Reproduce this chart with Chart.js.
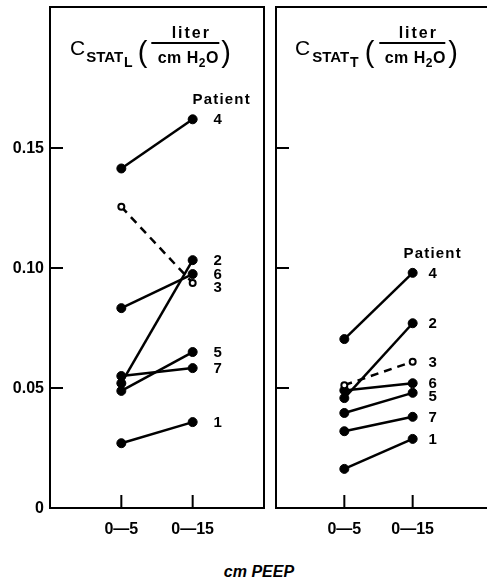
<!DOCTYPE html>
<html>
<head>
<meta charset="utf-8">
<script src="https://cdn.jsdelivr.net/npm/chart.js@4.4.1/dist/chart.umd.min.js"></script>
<style>
  html, body { margin: 0; padding: 0; background: #fff; }
  #page { position: relative; width: 487px; height: 583px; overflow: hidden; }
  .panel { position: absolute; top: 0; height: 545px; }
  #xTitle { position: absolute; left: 209px; top: 563px; width: 100px; text-align: center;
            font: italic bold 16px "Liberation Sans", Arial, sans-serif; color: #000; }
</style>
</head>
<body>
<div id="page">
  <div class="panel" style="left:0;width:270px"><canvas id="lungChart"></canvas></div>
  <div class="panel" style="left:270px;width:217px"><canvas id="totalChart"></canvas></div>
  <div id="xTitle">cm PEEP</div>
</div>
<script>
// Data
const patients = ['1', '2', '3', '4', '5', '6', '7'];
const peepLevels = ['0\u20145', '0\u201415'];
const lungAt5 = [0.027, 0.052, 0.1255, 0.1415, 0.0488, 0.0833, 0.055];
const lungAt15 = [0.0358, 0.1033, 0.0938, 0.162, 0.065, 0.0975, 0.0583];
const totalAt5 = [0.0163, 0.0458, 0.0512, 0.0704, 0.0396, 0.049, 0.032];
const totalAt15 = [0.0288, 0.077, 0.061, 0.098, 0.048, 0.052, 0.038];
const yTicks = [0, 0.05, 0.10, 0.15];
const yTickLabels = ['0', '0.05', '0.10', '0.15'];
const dashedPatient = '3';

const FONT = '"Liberation Sans", Arial, sans-serif';

function buildDatasets(at5, at15) {
    return patients.map(function (p, i) {
        const open = p === dashedPatient;
        return {
            label: p,
            data: [{ x: 1, y: at5[i] }, { x: 2, y: at15[i] }],
            borderColor: '#000',
            borderWidth: 2.5,
            borderDash: open ? [8, 6] : [],
            pointRadius: open ? 3 : 4.5,
            pointBackgroundColor: open ? '#fff' : '#000',
            pointBorderColor: '#000',
            pointBorderWidth: open ? 2 : 1,
            tension: 0
        };
    });
}

// Frame, inward ticks, y labels, title and patient labels
const panelPlugin = {
    id: 'panelDecor',
    afterDraw: function (chart, args, opts) {
        const ctx = chart.ctx;
        const a = chart.chartArea;
        const xs = chart.scales.x, ys = chart.scales.y;
        ctx.save();
        ctx.strokeStyle = '#000';
        ctx.lineWidth = 2;
        ctx.beginPath();
        if (opts.rightBorder) {
            ctx.rect(a.left, a.top, a.right - a.left, a.bottom - a.top);
        } else {
            ctx.moveTo(chart.width, a.top);
            ctx.lineTo(a.left, a.top);
            ctx.lineTo(a.left, a.bottom);
            ctx.lineTo(chart.width, a.bottom);
        }
        // y ticks pointing into the plot
        yTicks.forEach(function (v) {
            if (v === 0) return;
            const py = ys.getPixelForValue(v);
            ctx.moveTo(a.left, py);
            ctx.lineTo(a.left + 13, py);
        });
        // x ticks pointing up
        [1, 2].forEach(function (v) {
            const px = xs.getPixelForValue(v);
            ctx.moveTo(px, a.bottom);
            ctx.lineTo(px, a.bottom - 13);
        });
        ctx.stroke();

        ctx.fillStyle = '#000';
        if (opts.yLabels) {
            ctx.font = 'bold 16px ' + FONT;
            ctx.textAlign = 'right';
            ctx.textBaseline = 'middle';
            yTicks.forEach(function (v, i) {
                ctx.fillText(yTickLabels[i], a.left - 6, ys.getPixelForValue(v) + 1);
            });
        }

        // title: C_STAT_x (liter / cmH2O)
        ctx.textBaseline = 'alphabetic';
        ctx.textAlign = 'left';
        let x = opts.titleX;
        ctx.font = '21px ' + FONT;
        ctx.fillText('C', x, 55);
        x += ctx.measureText('C').width + opts.gap;
        ctx.font = 'bold 15px ' + FONT;
        ctx.fillText('STAT', x, 62);
        x += ctx.measureText('STAT').width + 1;
        ctx.font = 'bold 14px ' + FONT;
        ctx.fillText(opts.sub, x, 67);
        x += ctx.measureText(opts.sub).width + opts.gap + 4;
        ctx.font = '29px ' + FONT;
        ctx.fillText('(', x, 62);
        x += ctx.measureText('(').width + opts.gap + 3;
        const lineW = opts.fracW;
        ctx.beginPath();
        ctx.lineWidth = 1.8;
        ctx.moveTo(x, 43);
        ctx.lineTo(x + lineW, 43);
        ctx.stroke();
        const cx = x + lineW / 2 + 3;
        ctx.letterSpacing = '2px';
        ctx.font = 'bold 16px ' + FONT;
        ctx.textAlign = 'center';
        ctx.fillText('liter', cx + 3, 38);
        // cmH2O with subscript 2
        ctx.textAlign = 'left';
        ctx.letterSpacing = '0.5px';
        ctx.font = 'bold 16px ' + FONT;
        const w1 = ctx.measureText('cm H').width;
        ctx.font = 'bold 12px ' + FONT;
        const w2 = ctx.measureText('2').width;
        ctx.font = 'bold 16px ' + FONT;
        const w3 = ctx.measureText('O').width;
        let sx = cx - (w1 + w2 + w3) / 2;
        ctx.fillText('cm H', sx, 63);
        sx += w1;
        ctx.font = 'bold 12px ' + FONT;
        ctx.fillText('2', sx, 67);
        sx += w2;
        ctx.font = 'bold 16px ' + FONT;
        ctx.fillText('O', sx, 63);
        ctx.letterSpacing = '0px';
        ctx.font = '29px ' + FONT;
        ctx.fillText(')', x + lineW + opts.gap + 1, 62);

        // patient numbers beside the 0-15 points
        const labels = chart.data.datasets.map(function (ds, i) {
            const pt = chart.getDatasetMeta(i).data[1];
            return { text: ds.label, x: pt.x, y: pt.y };
        }).sort(function (p, q) { return p.y - q.y; });
        for (let i = 1; i < labels.length; i++) {
            if (labels[i].y - labels[i - 1].y < 12.5) labels[i].y = labels[i - 1].y + 12.5;
        }
        ctx.font = 'bold 15px ' + FONT;
        ctx.textAlign = 'center';
        ctx.textBaseline = 'middle';
        labels.forEach(function (l) {
            ctx.fillText(l.text, l.x + opts.numDx, l.y + 1);
        });
        ctx.letterSpacing = '1.2px';
        ctx.fillText('Patient', labels[0].x + opts.patientDx, labels[0].y - 19);
        ctx.restore();
    }
};

function makeChart(id, at5, at15, axisWidth, rightPad, decor) {
    return new Chart(document.getElementById(id), {
        type: 'line',
        data: { datasets: buildDatasets(at5, at15) },
        plugins: [panelPlugin],
        options: {
            responsive: true,
            maintainAspectRatio: false,
            animation: false,
            layout: { padding: { left: 0, right: rightPad, top: 7, bottom: 0 } },
            plugins: {
                legend: { display: false },
                tooltip: { enabled: false },
                panelDecor: decor
            },
            scales: {
                x: {
                    type: 'linear',
                    min: 0,
                    max: 3,
                    grid: { display: false, drawTicks: false },
                    border: { display: false },
                    afterBuildTicks: function (s) { s.ticks = [{ value: 1 }, { value: 2 }]; },
                    afterFit: function (s) { s.height = 37; },
                    ticks: {
                        autoSkip: false,
                        maxRotation: 0,
                        padding: 12,
                        color: '#000',
                        font: { family: FONT, size: 16, weight: 'bold' },
                        callback: function (v, i) { return peepLevels[i]; }
                    }
                },
                y: {
                    type: 'linear',
                    min: 0,
                    max: 0.2088,
                    grid: { display: false, drawTicks: false },
                    border: { display: false },
                    afterBuildTicks: function (s) { s.ticks = yTicks.map(function (v) { return { value: v }; }); },
                    afterFit: function (s) { s.width = axisWidth; },
                    ticks: { display: false }
                }
            }
        }
    });
}

makeChart('lungChart', lungAt5, lungAt15, 50, 6,
    { rightBorder: true, yLabels: true, titleX: 70, gap: 1, sub: 'L', fracW: 68, numDx: 25, patientDx: 29 });
makeChart('totalChart', totalAt5, totalAt15, 5, 0,
    { rightBorder: false, yLabels: false, titleX: 25, gap: 2, sub: 'T', fracW: 66, numDx: 20, patientDx: 20 });
</script>
</body>
</html>
